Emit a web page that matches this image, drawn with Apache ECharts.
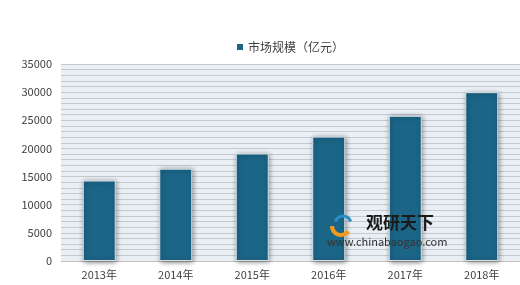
<!DOCTYPE html>
<html>
<head>
<meta charset="utf-8">
<script src="https://cdn.jsdelivr.net/npm/echarts@6/dist/echarts.min.js"></script>
<style>html,body{margin:0;padding:0;background:#fff;}#c{width:520px;height:285px;}</style>
</head>
<body>
<div id="c"></div>
<script>
const categories = ['2013年','2014年','2015年','2016年','2017年','2018年'];
const seriesName = '市场规模（亿元）';
const values = [14300, 16400, 19100, 22100, 25800, 30000];
const yTicks = [0, 5000, 10000, 15000, 20000, 25000, 30000, 35000];

const chart = echarts.init(document.getElementById('c'), null, {renderer: 'canvas'});
const font = '"Microsoft YaHei","Noto Sans CJK SC","Noto Sans",sans-serif';
chart.setOption({
  animation: false,
  textStyle: {fontFamily: font},
  legend: {
    data: [seriesName],
    top: 36, left: 232,
    itemWidth: 6, itemHeight: 6, itemGap: 3,
    icon: 'rect',
    itemStyle: {borderWidth: 0, shadowBlur: 0, shadowColor: 'transparent'},
    textStyle: {fontSize: 12, color: '#404040', fontFamily: font}
  },
  grid: {
    left: 61, right: -7, top: 64, bottom: 24,
    show: true, backgroundColor: '#e9eff4', borderWidth: 0
  },
  xAxis: {
    type: 'category',
    data: categories,
    axisLine: {show: true, lineStyle: {color: '#bfbfbf'}},
    axisTick: {show: false},
    axisLabel: {fontSize: 11, color: '#404040', margin: 8, fontFamily: font}
  },
  yAxis: {
    type: 'value',
    min: yTicks[0], max: yTicks[yTicks.length - 1], interval: 5000,
    axisLine: {show: false},
    axisTick: {show: false},
    axisLabel: {fontSize: 11, color: '#404040', margin: 9, fontFamily: font, formatter: v => String(v)},
    splitLine: {show: true, lineStyle: {color: '#c4cad0', width: 1}},
    minorTick: {show: false, splitNumber: 5},
    minorSplitLine: {show: true, lineStyle: {color: '#c4cad0', width: 1}}
  },
  series: [{
    name: seriesName,
    type: 'bar',
    data: values,
    barWidth: 33,
    itemStyle: {
      color: '#1b6587',
      borderColor: '#d6e1e8', borderWidth: 1,
      shadowBlur: 5, shadowColor: 'rgba(0,0,0,0.45)', shadowOffsetX: 1, shadowOffsetY: 1
    }
  }],
  graphic: [
    {type: 'arc', shape: {cx: 341, cy: 226, r: 9, startAngle: Math.PI * 0.2, endAngle: Math.PI * 1.0}, style: {stroke: '#f29a1f', lineWidth: 4, fill: null}, z: 100},
    {type: 'arc', shape: {cx: 343, cy: 224, r: 8, startAngle: Math.PI * 1.1, endAngle: Math.PI * 1.9}, style: {stroke: '#2a8fc6', lineWidth: 3, fill: null}, z: 100},
    {type: 'text', left: 366, top: 214, z: 100, style: {text: '观研天下', font: 'bold 17px ' + font, fill: '#1a1a1a'}},
    {type: 'text', left: 327, top: 236, z: 100, style: {text: 'www.chinabaogao.com', font: '11px ' + font, fill: '#333333'}}
  ]
});
</script>
</body>
</html>
